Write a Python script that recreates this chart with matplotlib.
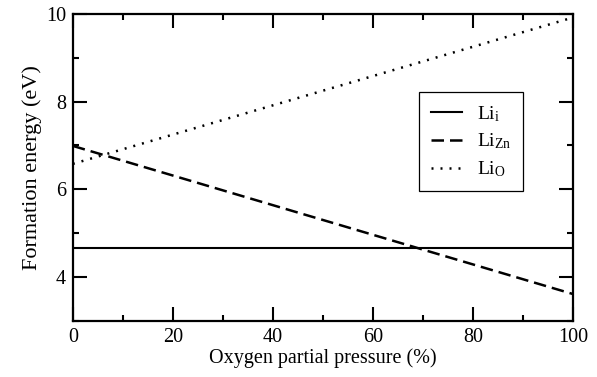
import matplotlib
matplotlib.use("Agg")
import matplotlib.pyplot as plt
from matplotlib.ticker import MultipleLocator

plt.rcParams["font.family"] = ["Liberation Serif", "DejaVu Serif"]
plt.rcParams["mathtext.fontset"] = "custom"
plt.rcParams["mathtext.rm"] = "Liberation Serif"
plt.rcParams["mathtext.it"] = "Liberation Serif:italic"

# data: formation energy vs oxygen partial pressure (linear between end points)
pressure = [0, 100]
li_i = [4.65, 4.65]
li_zn = [6.99, 3.61]
li_o = [6.58, 9.92]

labels = ["Li$_\\mathrm{i}$", "Li$_\\mathrm{Zn}$", "Li$_\\mathrm{O}$"]

fig = plt.figure(figsize=(5.97, 3.77), dpi=100)
ax = fig.add_axes([0.122, 0.149, 0.838, 0.814])

ax.plot(pressure, li_i, color="black", linewidth=1.5, linestyle="-", label=labels[0])
ax.plot(pressure, li_zn, color="black", linewidth=1.8, dashes=(5, 2.4), label=labels[1])
ax.plot(pressure, li_o, color="black", linewidth=1.8, dashes=(0.8, 2.8), label=labels[2])

ax.set_xlim(0, 100)
ax.set_ylim(3, 10)
ax.xaxis.set_major_locator(MultipleLocator(20))
ax.xaxis.set_minor_locator(MultipleLocator(10))
ax.yaxis.set_major_locator(MultipleLocator(2))
ax.yaxis.set_minor_locator(MultipleLocator(1))
ax.tick_params(which="both", direction="in", top=True, right=True, width=1.5, labelsize=14.5)
ax.tick_params(which="major", length=10, pad=5)
ax.tick_params(which="minor", length=4)
for s in ax.spines.values():
    s.set_linewidth(1.6)

ax.set_xlabel("Oxygen partial pressure (%)", fontsize=14.5, labelpad=1)
ax.set_ylabel("Formation energy (eV)", fontsize=16, labelpad=3)

leg = ax.legend(loc="upper left", bbox_to_anchor=(0.692, 0.745), frameon=True,
                fancybox=False, edgecolor="black", framealpha=1, fontsize=14,
                handlelength=1.6, handletextpad=0.8, borderpad=0.6,
                labelspacing=0.42, borderaxespad=0)
leg.get_frame().set_linewidth(0.9)

fig.savefig("out.png", dpi=100, facecolor="white")
